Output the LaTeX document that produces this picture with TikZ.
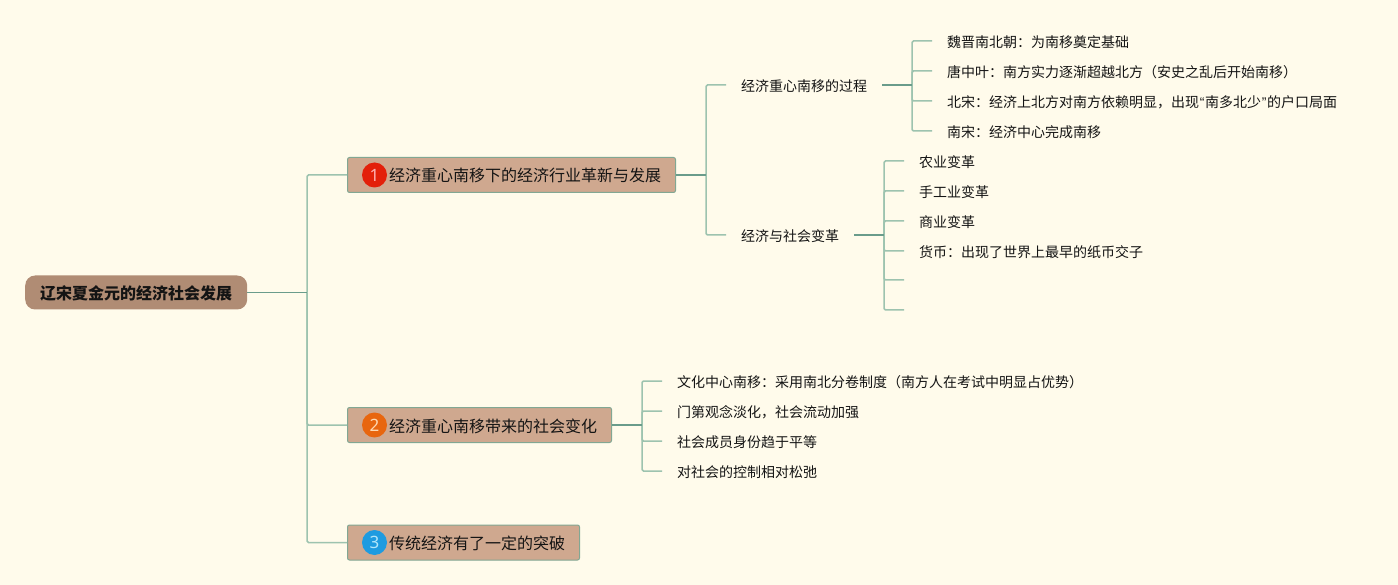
\documentclass[tikz,border=0pt]{standalone}
\usepackage{fontspec}
\setmainfont{Noto Sans CJK SC}
\newfontfamily\quotefont{Liberation Sans}
\newfontfamily\digitfont{Noto Sans}
\newcommand{\cnq}[1]{\makebox[6pt][c]{\quotefont #1}}
\definecolor{bgc}{HTML}{FFFBEB}
\definecolor{rootc}{HTML}{B08C74}
\definecolor{boxc}{HTML}{CFA88F}
\definecolor{boxline}{HTML}{82A793}
\definecolor{stemc}{HTML}{6A9C8B}
\definecolor{twigc}{HTML}{9DC3AF}
\definecolor{inkc}{HTML}{141414}
\tikzset{
  x=1pt,y=-1pt,
  rootbox/.style={draw=none,fill=rootc,rounded corners=10pt,anchor=west,minimum height=34pt,inner xsep=15pt,inner ysep=0pt,
    font=\fontsize{16pt}{18pt}\selectfont\bfseries,text=inkc,text height=16pt,text depth=2pt},
  topicbox/.style={draw=boxline,line width=1pt,fill=boxc,rounded corners=2pt,anchor=west,minimum height=35pt,inner xsep=14.5pt,inner ysep=0pt,
    font=\fontsize{16pt}{18pt}\selectfont,text=inkc,text height=16pt,text depth=2pt},
  leaf/.style={anchor=west,inner xsep=15pt,inner ysep=0pt,minimum height=20pt,
    font=\fontsize{14pt}{16pt}\selectfont,text=inkc,text height=15pt,text depth=2pt},
  badge/.style={circle,minimum size=25pt,inner sep=0pt,text=#1!30!white,font=\digitfont\fontsize{17pt}{18pt}\selectfont},
  stem/.style={draw=stemc,line width=1.8pt},
  thinstem/.style={draw=stemc,line width=1pt},
  twig/.style={draw=twigc,line width=1.5pt,rounded corners=1.5pt},
}
\begin{document}
\begin{tikzpicture}
\fill[bgc] (0,0) rectangle (1398,585);
\useasboundingbox (0,0) rectangle (1398,585);

% nodes
\node[rootbox] (root) at (25,292.5) {辽宋夏金元的经济社会发展};
\node[topicbox] (t1) at (347,175) {\hspace{27pt}经济重心南移下的经济行业革新与发展};
\node[topicbox] (t2) at (347,425) {\hspace{27pt}经济重心南移带来的社会变化};
\node[topicbox] (t3) at (347,542.5) {\hspace{27pt}传统经济有了一定的突破};
\node[badge=red,fill={rgb,255:red,227;green,32;blue,10}] (b1) at (374.5,175) {1};
\node[badge=orange,fill={rgb,255:red,232;green,102;blue,15}] (b2) at (374.5,425) {2};
\node[badge=cyan,fill={rgb,255:red,30;green,155;blue,224}] (b3) at (374.5,542.5) {3};

\node[leaf] (s1) at (726,85) {经济重心南移的过程};
\node[leaf] (s2) at (726,235) {经济与社会变革};

\node[leaf] (a1) at (932,41) {魏晋南北朝：为南移奠定基础};
\node[leaf] (a2) at (932,71) {唐中叶：南方实力逐渐超越北方（安史之乱后开始南移）};
\node[leaf] (a3) at (932,101) {北宋：经济上北方对南方依赖明显，出现\cnq{“}南多北少\cnq{”}的户口局面};
\node[leaf] (a4) at (932,131) {南宋：经济中心完成南移};

\node[leaf] (c1) at (904,161) {农业变革};
\node[leaf] (c2) at (904,191) {手工业变革};
\node[leaf] (c3) at (904,221) {商业变革};
\node[leaf] (c4) at (904,251) {货币：出现了世界上最早的纸币交子};
\coordinate (c5) at (904,280);
\coordinate (c6) at (904,310);

\node[leaf] (d1) at (662,381) {文化中心南移：采用南北分卷制度（南方人在考试中明显占优势）};
\node[leaf] (d2) at (662,411) {门第观念淡化，社会流动加强};
\node[leaf] (d3) at (662,441) {社会成员身份趋于平等};
\node[leaf] (d4) at (662,471) {对社会的控制相对松弛};

% junctions
\coordinate (jroot) at (307,292.5);
\coordinate (jt1) at (706,175);
\coordinate (js1) at (912,85);
\coordinate (js2) at (884,235);
\coordinate (jt2) at (642,425);

% connectors
\draw[twig] (jroot) |- (t1.west);
\draw[twig] (jroot) |- (t2.west);
\draw[twig] (jroot) |- (t3.west);
\draw[thinstem] (root.east) -- (jroot);

\draw[twig] (jt1) |- (s1.west);
\draw[twig] (jt1) |- (s2.west);
\draw[stem] (t1.east) -- (jt1);

\foreach \n in {a1,a2,a3,a4} \draw[twig] (js1) |- (\n.west);
\draw[stem] (s1.east) -- (js1);

\foreach \n in {c1,c2,c3,c4} \draw[twig] (js2) |- (\n.west);
\draw[twig] (js2) |- (c5);
\draw[twig] (js2) |- (c6);
\draw[stem] (s2.east) -- (js2);

\foreach \n in {d1,d2,d3,d4} \draw[twig] (jt2) |- (\n.west);
\draw[stem] (t2.east) -- (jt2);
\end{tikzpicture}
\end{document}
